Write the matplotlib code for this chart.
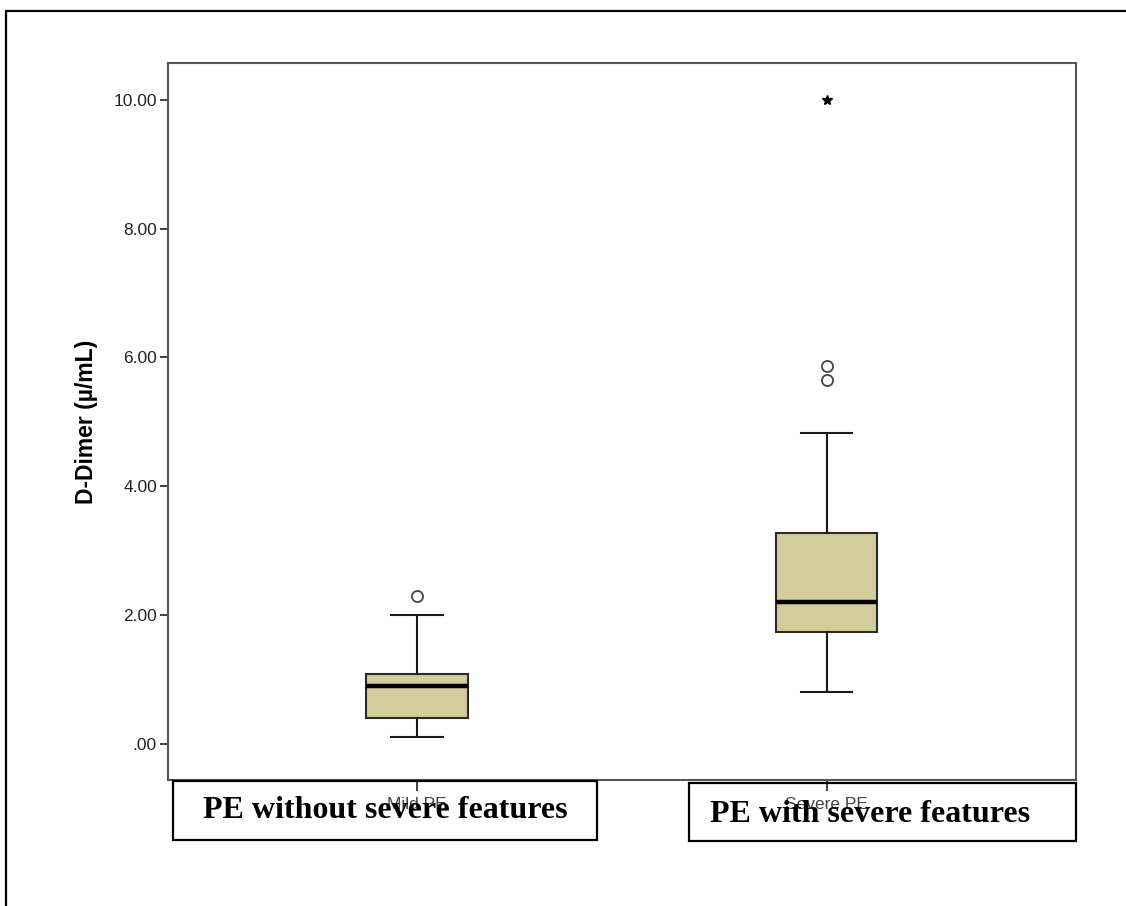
import matplotlib
matplotlib.use("Agg")
import matplotlib.pyplot as plt
from matplotlib.patches import Rectangle

# Data
categories = ["Mild PE", "Severe PE"]
overlay_labels = ["PE without severe features", "PE with severe features"]
whisk_lo = [0.10, 0.80]
q1 = [0.40, 1.74]
med = [0.90, 2.20]
q3 = [1.09, 3.28]
whisk_hi = [2.00, 4.83]
outliers = [[2.30], [5.65, 5.87]]
extremes = [[], [10.0]]
yticks = [0, 2, 4, 6, 8, 10]
ytick_labels = [".00", "2.00", "4.00", "6.00", "8.00", "10.00"]

W, H = 1126, 906
fig = plt.figure(figsize=(W / 100, H / 100), dpi=100)
fig.patch.set_facecolor("white")

# outer frame
fig.add_artist(Rectangle((6 / W, -0.1), 1.2, 1 - 11 / H + 0.1, transform=fig.transFigure,
                         fill=False, edgecolor="black", linewidth=1.6))

ax = fig.add_axes([168 / W, 1 - 780 / H, (1076 - 168) / W, (780 - 63) / H])
positions = [1, 2]
stats = []
for i, c in enumerate(categories):
    stats.append(dict(label=c, whislo=whisk_lo[i], q1=q1[i], med=med[i], q3=q3[i],
                      whishi=whisk_hi[i], fliers=[]))
ax.bxp(stats, positions=positions, widths=0.247, patch_artist=True, showfliers=False,
       boxprops=dict(facecolor="#d3cd9b", edgecolor="#2a2a2a", linewidth=1.5),
       medianprops=dict(color="black", linewidth=3.2),
       whiskerprops=dict(color="#1a1a1a", linewidth=1.5),
       capprops=dict(color="#1a1a1a", linewidth=1.5),
       capwidths=0.125)

for i, p in enumerate(positions):
    if outliers[i]:
        ax.plot([p] * len(outliers[i]), outliers[i], linestyle="none", marker="o",
                markersize=8, markerfacecolor="white", markeredgecolor="#444444",
                markeredgewidth=1.3)
    if extremes[i]:
        ax.plot([p] * len(extremes[i]), extremes[i], linestyle="none", marker="*",
                markersize=7.5, color="black")

ax.set_xlim(0.392, 2.609)
ax.set_ylim(-0.56, 10.57)
ax.set_yticks(yticks)
ax.set_yticklabels(ytick_labels, fontsize=12.5, family="Liberation Sans", color="#222222")
ax.set_xticks(positions)
ax.set_xticklabels(categories, fontsize=12.5, family="Liberation Sans", color="#444444")
ax.tick_params(axis="y", direction="out", length=6, width=1.3, color="#333333", pad=2)
ax.tick_params(axis="x", direction="out", length=8, width=1.3, color="#333333", pad=4)
for s in ax.spines.values():
    s.set_color("#555555")
    s.set_linewidth(1.5)
ax.set_ylabel("D-Dimer (µ/mL)", fontsize=16.5, fontweight="bold", family="Liberation Sans",
              labelpad=11)

# overlay label boxes
boxes = [(173, 781, 597, 840, 385, 811), (689, 783, 1076, 841, 870, 815)]
for (x0, y0, x1, y1, tx, ty), lab in zip(boxes, overlay_labels):
    fig.add_artist(Rectangle((x0 / W, 1 - y1 / H), (x1 - x0) / W, (y1 - y0) / H,
                             transform=fig.transFigure, fill=False, edgecolor="black",
                             linewidth=1.6))
    fig.text(tx / W, 1 - ty / H, lab, ha="center", va="center", fontsize=23,
             fontweight="bold", family="Liberation Serif", color="black")

fig.savefig("out.png", dpi=100, facecolor="white")
